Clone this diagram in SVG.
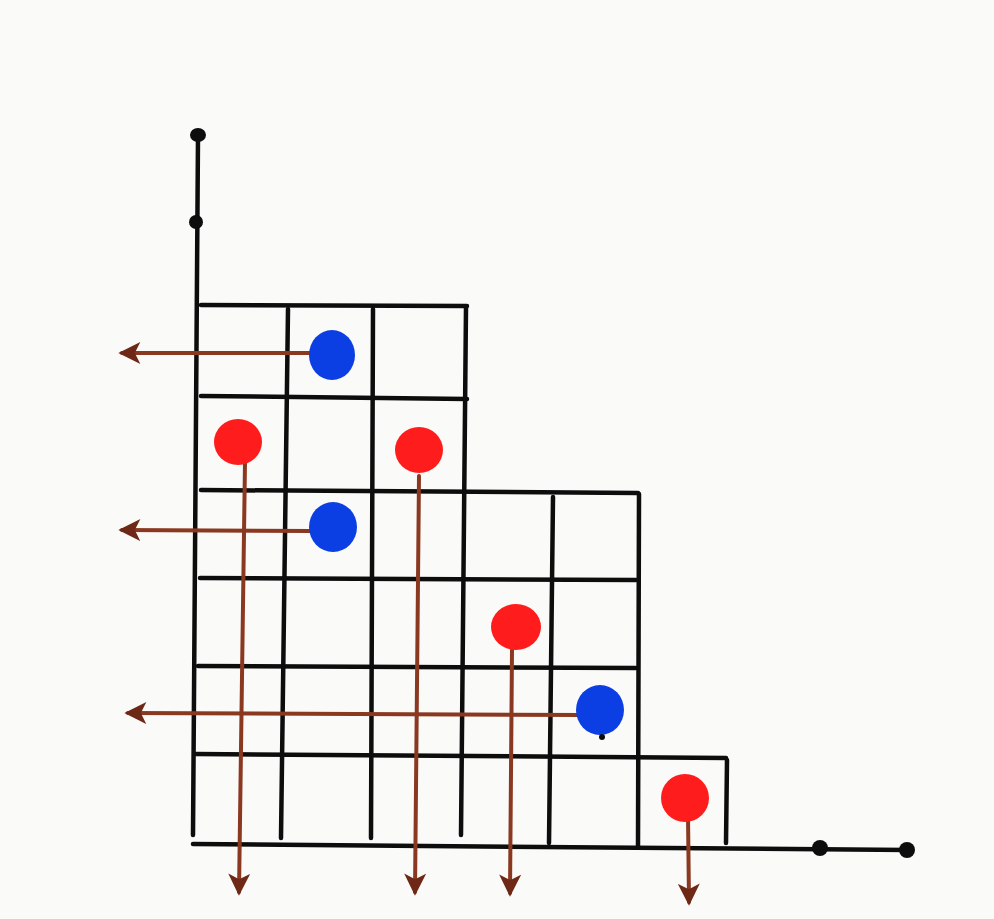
<svg xmlns="http://www.w3.org/2000/svg" width="994" height="919" viewBox="0 0 994 919">
  <defs>
    <style>
      .ink { stroke: #0d0d0d; stroke-width: 4.5; stroke-linecap: round; fill: none; }
      .arr { stroke: #8a3820; stroke-width: 4; stroke-linecap: round; fill: none; }
      .red { fill: #ff1c1c; }
      .blue { fill: #0b3fe3; }
      .dot { fill: #0d0d0d; }
    </style>
    <marker id="ah" viewBox="0 0 12 12" refX="10" refY="6" markerWidth="6" markerHeight="5.5" orient="auto" markerUnits="strokeWidth">
      <path d="M0,0 L12,6 L0,12 L3,6 Z" fill="#6e2816"/>
    </marker>
  </defs>
  <rect width="994" height="919" fill="#fafaf8"/>

  <g id="axes">
    <path class="ink" d="M198,136 L193,835"/>
    <path class="ink" d="M193,844 L908,850"/>
    <ellipse class="dot" cx="198" cy="135" rx="8" ry="7"/>
    <circle class="dot" cx="196" cy="222" r="7"/>
    <circle class="dot" cx="820" cy="848" r="8"/>
    <circle class="dot" cx="907" cy="850" r="8"/>
  </g>

  <g id="grid">
    <path class="ink" d="M201,305 L467,306"/>
    <path class="ink" d="M201,396 L467,399"/>
    <path class="ink" d="M201,490 L638,493"/>
    <path class="ink" d="M200,578 L636,580"/>
    <path class="ink" d="M198,666 L636,668"/>
    <path class="ink" d="M196,754 L726,758"/>
    <path class="ink" d="M288,309 L281,838"/>
    <path class="ink" d="M373,309 L371,838"/>
    <path class="ink" d="M466,307 L461,835"/>
    <path class="ink" d="M553,497 L549,843"/>
    <path class="ink" d="M639,494 L638,846"/>
    <path class="ink" d="M727,760 L726,843"/>
  </g>

  <g id="connectors">
    <path class="arr" d="M318,353 L122,353" marker-end="url(#ah)"/>
    <path class="arr" d="M312,531 L122,530" marker-end="url(#ah)"/>
    <path class="arr" d="M582,715 L128,713" marker-end="url(#ah)"/>
    <path class="arr" d="M245,462 L239,892" marker-end="url(#ah)"/>
    <path class="arr" d="M419,476 L415,892" marker-end="url(#ah)"/>
    <path class="arr" d="M512,650 L510,893" marker-end="url(#ah)"/>
    <path class="arr" d="M688,815 L689,902" marker-end="url(#ah)"/>
  </g>

  <g id="blue-1"><ellipse class="blue" cx="332" cy="355" rx="23" ry="25"/></g>
  <g id="blue-2"><ellipse class="blue" cx="333" cy="527" rx="24" ry="25"/></g>
  <g id="blue-3"><ellipse class="blue" cx="600" cy="710" rx="24" ry="25"/><circle class="dot" cx="602" cy="737" r="3"/></g>
  <g id="red-1"><ellipse class="red" cx="238" cy="442" rx="24" ry="23"/></g>
  <g id="red-2"><ellipse class="red" cx="419" cy="450" rx="24" ry="23"/></g>
  <g id="red-3"><ellipse class="red" cx="516" cy="627" rx="25" ry="23"/></g>
  <g id="red-4"><ellipse class="red" cx="685" cy="798" rx="24" ry="24"/></g>
</svg>
